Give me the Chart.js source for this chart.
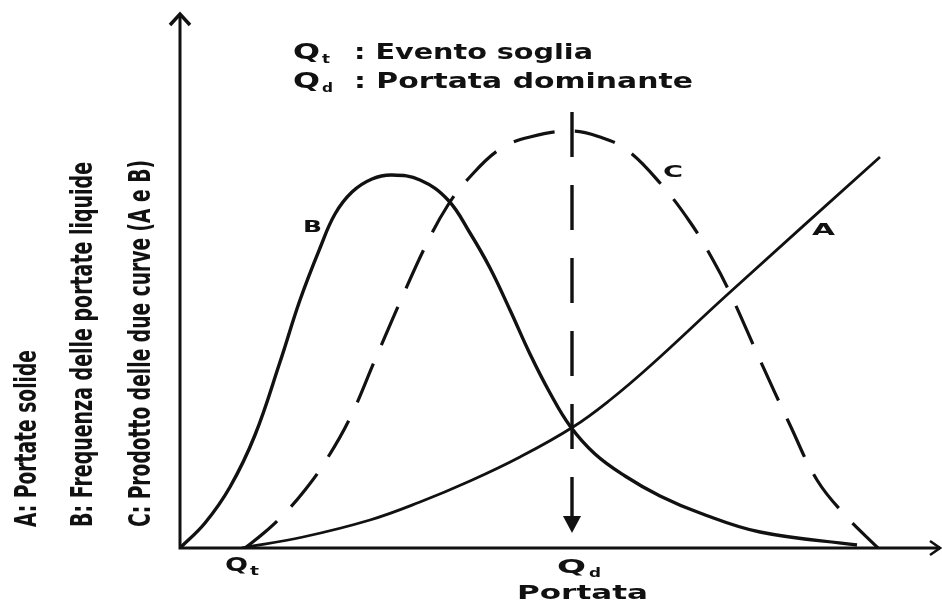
<!DOCTYPE html>
<html>
<head>
<meta charset="utf-8">
<script src="https://cdn.jsdelivr.net/npm/chart.js@4/dist/chart.umd.min.js"></script>
<style>
  body { margin: 0; background: #fff; }
  canvas { display: block; }
</style>
</head>
<body>
<canvas id="chart" width="942" height="602"></canvas>
<script>
// curve A: portate solide
const curveAX = [62, 123, 190, 240, 290, 340, 393, 430, 470, 548, 700];
const curveAY = [0, 11, 28, 46, 67, 91, 121, 148, 182, 254, 391];
// curve B: frequenza delle portate liquide
const curveBX = [0, 25, 50, 75, 100, 120, 140, 155, 172, 192, 212, 240, 268, 290, 310, 330, 350, 370, 390, 415, 445, 480, 520, 580, 677];
const curveBY = [0, 25, 61, 113, 186, 248, 300, 334, 356, 369, 373, 368, 348, 315, 280, 238, 194, 155, 122, 94, 72, 52, 35, 16, 3];
// curve C: prodotto A x B
const curveCX = [65, 85, 105, 125, 145, 170, 195, 220, 247, 268, 288, 320, 350, 392, 420, 447, 480, 510, 533, 550, 580, 610, 637, 665, 698];
const curveCY = [0, 16, 35, 58, 86, 130, 188, 246, 305, 343, 369, 399, 411, 417, 411, 398, 365, 326, 288, 255, 188, 123, 68, 33, 0];
// portata dominante marker
const qdX = 392;
const qdRange = [436, 28];

const axisLabels = [
  'A: Portate solide',
  'B: Frequenza delle portate liquide',
  'C: Prodotto delle due curve (A e B)'
];
const legendLines = [': Evento soglia', ': Portata dominante'];
const xTitle = 'Portata';

const ink = '#111';
const pts = (xs, ys) => xs.map((x, i) => ({ x: x, y: ys[i] }));

// draw bold text squeezed/stretched to a given width
function fit(ctx, text, x, y, w, size) {
  ctx.save();
  ctx.font = 'bold ' + size + 'px "DejaVu Sans"';
  const m = ctx.measureText(text).width;
  ctx.translate(x, y);
  ctx.scale(w / m, 1);
  ctx.fillText(text, 0, 0);
  ctx.restore();
}

// vertical text, reading bottom to top
function fitUp(ctx, text, baseX, bottomY, len, size) {
  ctx.save();
  ctx.font = 'bold ' + size + 'px "DejaVu Sans"';
  const m = ctx.measureText(text).width;
  ctx.translate(baseX, bottomY);
  ctx.rotate(-Math.PI / 2);
  ctx.scale(len / m, 1);
  ctx.fillText(text, 0, 0);
  ctx.restore();
}

const decor = {
  id: 'decor',
  afterDatasetsDraw(chart) {
    const ctx = chart.ctx;
    const xs = chart.scales.x, ys = chart.scales.y;
    const x0 = xs.getPixelForValue(0), y0 = ys.getPixelForValue(0);
    const xEnd = xs.getPixelForValue(xs.max), yEnd = ys.getPixelForValue(ys.max);
    ctx.save();
    ctx.strokeStyle = ink;
    ctx.fillStyle = ink;
    ctx.lineCap = 'butt';
    ctx.lineJoin = 'miter';

    // axes
    ctx.lineWidth = 3;
    ctx.beginPath();
    ctx.moveTo(x0, yEnd + 2);
    ctx.lineTo(x0, y0);
    ctx.lineTo(xEnd, y0);
    ctx.stroke();

    // arrow heads on axes
    ctx.lineWidth = 3.5;
    ctx.beginPath();
    ctx.moveTo(x0 - 10, yEnd + 13);
    ctx.lineTo(x0, yEnd + 2);
    ctx.lineTo(x0 + 10, yEnd + 13);
    ctx.stroke();
    ctx.lineWidth = 2.5;
    ctx.beginPath();
    ctx.moveTo(xEnd - 10, y0 - 7);
    ctx.lineTo(xEnd, y0);
    ctx.lineTo(xEnd - 10, y0 + 7);
    ctx.stroke();

    // arrow head on the Qd line
    const qx = xs.getPixelForValue(qdX);
    const qy = ys.getPixelForValue(qdRange[1]);
    ctx.beginPath();
    ctx.moveTo(qx - 9, qy - 4);
    ctx.lineTo(qx + 9, qy - 4);
    ctx.lineTo(qx, qy + 13);
    ctx.closePath();
    ctx.fill();

    // legend text at top
    fit(ctx, 'Q', 293, 59, 27, 21);
    fit(ctx, 't', 322, 63, 8, 13);
    fit(ctx, legendLines[0], 354, 59, 239, 21);
    fit(ctx, 'Q', 293, 88, 27, 21);
    fit(ctx, 'd', 322, 92, 11, 13);
    fit(ctx, legendLines[1], 354, 88, 339, 21);

    // curve labels
    fit(ctx, 'B', 303, 232, 19, 16);
    fit(ctx, 'C', 663, 177, 20, 16);
    fit(ctx, 'A', 812, 235, 23, 16);

    // x axis labels
    fit(ctx, 'Q', 225, 571, 23, 19);
    fit(ctx, 't', 250, 575, 9, 13);
    fit(ctx, 'Q', 557, 573, 29, 19);
    fit(ctx, 'd', 589, 577, 12, 13);
    fit(ctx, xTitle, 517, 599, 131, 20);

    // vertical axis description
    fitUp(ctx, axisLabels[0], 36, 527, 177, 31);
    fitUp(ctx, axisLabels[1], 92, 527, 365, 31);
    fitUp(ctx, axisLabels[2], 150, 527, 367, 31);
    ctx.restore();
  }
};

new Chart(document.getElementById('chart'), {
  type: 'scatter',
  data: {
    datasets: [
      {
        label: 'A',
        data: pts(curveAX, curveAY),
        showLine: true,
        borderColor: ink,
        borderWidth: 2.8,
        pointRadius: 0,
        tension: 0.4
      },
      {
        label: 'B',
        data: pts(curveBX, curveBY),
        showLine: true,
        borderColor: ink,
        borderWidth: 3.4,
        pointRadius: 0,
        tension: 0.4
      },
      {
        label: 'C',
        data: pts(curveCX, curveCY),
        showLine: true,
        borderColor: ink,
        borderWidth: 3.2,
        borderDash: [42, 20],
        pointRadius: 0,
        tension: 0.4
      },
      {
        label: 'Qd',
        data: [{ x: qdX, y: qdRange[0] }, { x: qdX, y: qdRange[1] }],
        showLine: true,
        borderColor: ink,
        borderWidth: 3.4,
        borderDash: [45, 28],
        pointRadius: 0
      }
    ]
  },
  options: {
    responsive: false,
    animation: false,
    events: [],
    layout: { padding: { left: 180, right: 2, top: 12, bottom: 54 } },
    plugins: { legend: { display: false }, tooltip: { enabled: false } },
    scales: {
      x: { type: 'linear', min: 0, max: 760, display: false },
      y: { type: 'linear', min: 0, max: 536, display: false }
    }
  },
  plugins: [decor]
});
</script>
</body>
</html>
